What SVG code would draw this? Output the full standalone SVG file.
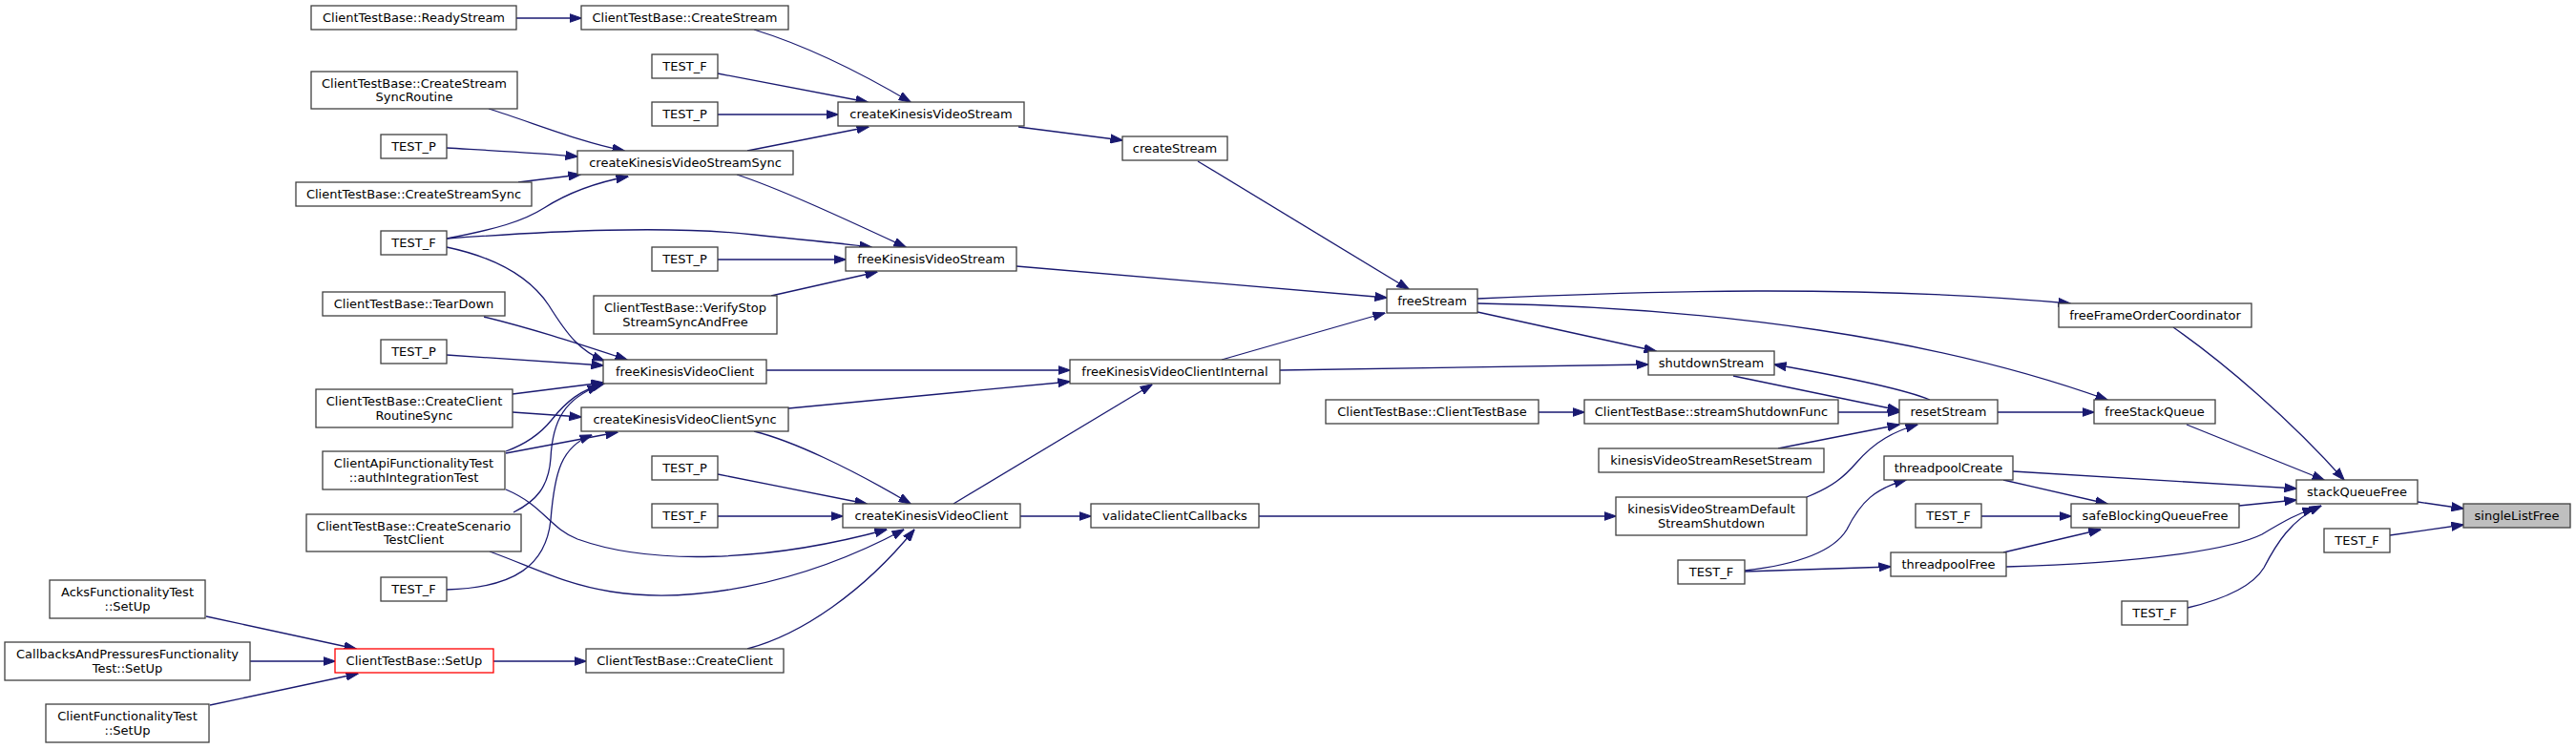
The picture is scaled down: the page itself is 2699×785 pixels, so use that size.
<svg xmlns="http://www.w3.org/2000/svg" width="2699" height="785" viewBox="0 0 2699 785">
<style>
.n rect{fill:#fff;stroke:#404040;stroke-width:1.3}
.n text{font-family:"DejaVu Sans",sans-serif;font-size:13px;fill:#000;text-anchor:middle}
.red rect{stroke:#ff0000}
.root rect{fill:#bfbfbf}
#edges path{fill:none;stroke:#191970;stroke-width:1.3;marker-end:url(#ah)}
</style>
<defs>
<marker id="ah" viewBox="0 0 13 10" refX="12.5" refY="5" markerWidth="13" markerHeight="10" orient="auto" markerUnits="userSpaceOnUse">
<path d="M0,0.5 L13,5 L0,9.5 z" fill="#191970" stroke="#191970" stroke-width="1"/>
</marker>
</defs>
<rect x="0" y="0" width="2699" height="785" fill="#fff"/>
<g id="edges">
<path d="M541,19 L609,19"/>
<path d="M790,31 C845,48 905,78 954,107"/>
<path d="M752,77 L909,107"/>
<path d="M752,120 L878,120"/>
<path d="M783,158 L910,133"/>
<path d="M1067,133 L1176,147"/>
<path d="M512,114 C560,129 605,148 654,158"/>
<path d="M468,155 C520,158 560,160 605,164"/>
<path d="M543,191 L608,183"/>
<path d="M468,250 C520,240 548,232 570,218 C592,204 620,192 658,185"/>
<path d="M468,250 C580,242 700,236 790,246 C840,251 880,255 913,259"/>
<path d="M468,259 C520,270 555,290 575,320 C595,352 608,368 633,378"/>
<path d="M772,183 C815,197 880,227 949,259"/>
<path d="M752,272 L886,272"/>
<path d="M808,310 L919,285"/>
<path d="M1065,279 L1453,312"/>
<path d="M1255,169 L1476,303"/>
<path d="M1548,313 C1720,305 1950,298 2169,318"/>
<path d="M1548,318 C1800,322 2030,355 2208,419"/>
<path d="M1548,327 L1735,368"/>
<path d="M1280,377 L1451,328"/>
<path d="M1341,388 L1727,382"/>
<path d="M803,388 L1121,388"/>
<path d="M826,428 L1121,400"/>
<path d="M999,528 L1207,403"/>
<path d="M507,332 C560,345 605,360 657,377"/>
<path d="M468,372 L632,383"/>
<path d="M537,413 L632,401"/>
<path d="M537,432 L609,437"/>
<path d="M530,473 C552,465 566,455 578,440 C594,420 608,409 633,402"/>
<path d="M530,475 L647,453"/>
<path d="M530,513 C570,530 575,553 605,565 C680,592 800,590 929,555"/>
<path d="M538,537 C562,525 575,510 577,480 C579,440 592,418 628,404"/>
<path d="M468,618 C540,616 572,592 577,545 C581,495 588,468 620,456"/>
<path d="M513,578 C560,595 590,612 640,620 C720,633 835,615 947,555"/>
<path d="M783,680 C840,665 905,620 958,555"/>
<path d="M752,497 L908,528"/>
<path d="M752,541 L883,541"/>
<path d="M790,452 C830,462 890,490 954,528"/>
<path d="M1069,541 L1143,541"/>
<path d="M1319,541 L1693,541"/>
<path d="M517,693 L614,693"/>
<path d="M216,646 L373,680"/>
<path d="M262,693 L351,693"/>
<path d="M220,739 L375,706"/>
<path d="M1612,432 L1660,432"/>
<path d="M1926,432 L1990,432"/>
<path d="M1863,470 L1990,445"/>
<path d="M1893,521 C1920,510 1932,500 1945,485 C1965,462 1985,452 2009,445"/>
<path d="M2022,419 C2000,410 1950,398 1859,382"/>
<path d="M1816,394 L1990,430"/>
<path d="M2093,432 L2194,432"/>
<path d="M2291,445 L2435,503"/>
<path d="M2277,343 C2330,380 2400,440 2456,503"/>
<path d="M2109,494 C2200,500 2300,505 2406,512"/>
<path d="M2099,503 L2208,528"/>
<path d="M2076,541 L2170,541"/>
<path d="M2099,579 L2201,555"/>
<path d="M2346,530 L2406,524"/>
<path d="M2102,594 C2250,590 2340,575 2370,560 C2395,545 2408,538 2425,533"/>
<path d="M2292,637 C2330,628 2360,615 2372,595 C2385,570 2400,545 2432,530"/>
<path d="M2533,526 L2581,533"/>
<path d="M2504,561 L2581,550"/>
<path d="M1828,598 C1880,592 1920,580 1935,555 C1950,525 1965,512 1997,503"/>
<path d="M1828,599 L1981,594"/>
</g>
<g id="n1" class="n"><rect x="326" y="6" width="215" height="25"/><text x="433.5" y="23">ClientTestBase::ReadyStream</text></g>
<g id="n2" class="n"><rect x="326" y="75" width="216" height="39"/><text x="434" y="92">ClientTestBase::CreateStream</text><text x="434" y="106">SyncRoutine</text></g>
<g id="n3" class="n"><rect x="399" y="141" width="69" height="25"/><text x="433.5" y="158">TEST_P</text></g>
<g id="n4" class="n"><rect x="310" y="191" width="247" height="25"/><text x="433.5" y="208">ClientTestBase::CreateStreamSync</text></g>
<g id="n5" class="n"><rect x="399" y="242" width="69" height="25"/><text x="433.5" y="259">TEST_F</text></g>
<g id="n6" class="n"><rect x="338" y="306" width="191" height="25"/><text x="433.5" y="323">ClientTestBase::TearDown</text></g>
<g id="n7" class="n"><rect x="399" y="356" width="69" height="25"/><text x="433.5" y="373">TEST_P</text></g>
<g id="n8" class="n"><rect x="331" y="408" width="206" height="40"/><text x="434" y="425">ClientTestBase::CreateClient</text><text x="434" y="440">RoutineSync</text></g>
<g id="n9" class="n"><rect x="338" y="473" width="191" height="40"/><text x="433.5" y="490">ClientApiFunctionalityTest</text><text x="433.5" y="505">::authIntegrationTest</text></g>
<g id="n10" class="n"><rect x="321" y="539" width="225" height="39"/><text x="433.5" y="556">ClientTestBase::CreateScenario</text><text x="433.5" y="570">TestClient</text></g>
<g id="n11" class="n"><rect x="399" y="605" width="69" height="25"/><text x="433.5" y="622">TEST_F</text></g>
<g id="n12" class="n red"><rect x="351" y="680" width="166" height="25"/><text x="434" y="697">ClientTestBase::SetUp</text></g>
<g id="n13" class="n"><rect x="52" y="608" width="163" height="40"/><text x="133.5" y="625">AcksFunctionalityTest</text><text x="133.5" y="640">::SetUp</text></g>
<g id="n14" class="n"><rect x="5" y="673" width="257" height="40"/><text x="133.5" y="690">CallbacksAndPressuresFunctionality</text><text x="133.5" y="705">Test::SetUp</text></g>
<g id="n15" class="n"><rect x="48" y="738" width="171" height="40"/><text x="133.5" y="755">ClientFunctionalityTest</text><text x="133.5" y="770">::SetUp</text></g>
<g id="n16" class="n"><rect x="609" y="6" width="217" height="25"/><text x="717.5" y="23">ClientTestBase::CreateStream</text></g>
<g id="n17" class="n"><rect x="683" y="57" width="69" height="25"/><text x="717.5" y="74">TEST_F</text></g>
<g id="n18" class="n"><rect x="683" y="107" width="69" height="25"/><text x="717.5" y="124">TEST_P</text></g>
<g id="n19" class="n"><rect x="605" y="158" width="226" height="25"/><text x="718" y="175">createKinesisVideoStreamSync</text></g>
<g id="n20" class="n"><rect x="683" y="259" width="69" height="25"/><text x="717.5" y="276">TEST_P</text></g>
<g id="n21" class="n"><rect x="622" y="310" width="192" height="40"/><text x="718" y="327">ClientTestBase::VerifyStop</text><text x="718" y="342">StreamSyncAndFree</text></g>
<g id="n22" class="n"><rect x="632" y="377" width="171" height="25"/><text x="717.5" y="394">freeKinesisVideoClient</text></g>
<g id="n23" class="n"><rect x="609" y="427" width="217" height="25"/><text x="717.5" y="444">createKinesisVideoClientSync</text></g>
<g id="n24" class="n"><rect x="683" y="478" width="69" height="25"/><text x="717.5" y="495">TEST_P</text></g>
<g id="n25" class="n"><rect x="683" y="528" width="69" height="25"/><text x="717.5" y="545">TEST_F</text></g>
<g id="n26" class="n"><rect x="614" y="680" width="207" height="25"/><text x="717.5" y="697">ClientTestBase::CreateClient</text></g>
<g id="n27" class="n"><rect x="878" y="107" width="195" height="25"/><text x="975.5" y="124">createKinesisVideoStream</text></g>
<g id="n28" class="n"><rect x="886" y="259" width="179" height="25"/><text x="975.5" y="276">freeKinesisVideoStream</text></g>
<g id="n29" class="n"><rect x="883" y="528" width="186" height="25"/><text x="976" y="545">createKinesisVideoClient</text></g>
<g id="n30" class="n"><rect x="1176" y="143" width="110" height="25"/><text x="1231" y="160">createStream</text></g>
<g id="n31" class="n"><rect x="1121" y="377" width="220" height="25"/><text x="1231" y="394">freeKinesisVideoClientInternal</text></g>
<g id="n32" class="n"><rect x="1143" y="528" width="176" height="25"/><text x="1231" y="545">validateClientCallbacks</text></g>
<g id="n33" class="n"><rect x="1453" y="303" width="95" height="25"/><text x="1500.5" y="320">freeStream</text></g>
<g id="n34" class="n"><rect x="1389" y="419" width="223" height="25"/><text x="1500.5" y="436">ClientTestBase::ClientTestBase</text></g>
<g id="n35" class="n"><rect x="1727" y="368" width="132" height="25"/><text x="1793" y="385">shutdownStream</text></g>
<g id="n36" class="n"><rect x="1660" y="419" width="266" height="25"/><text x="1793" y="436">ClientTestBase::streamShutdownFunc</text></g>
<g id="n37" class="n"><rect x="1675" y="470" width="236" height="25"/><text x="1793" y="487">kinesisVideoStreamResetStream</text></g>
<g id="n38" class="n"><rect x="1693" y="521" width="200" height="40"/><text x="1793" y="538">kinesisVideoStreamDefault</text><text x="1793" y="553">StreamShutdown</text></g>
<g id="n39" class="n"><rect x="1758" y="587" width="70" height="25"/><text x="1793" y="604">TEST_F</text></g>
<g id="n40" class="n"><rect x="1990" y="419" width="103" height="25"/><text x="2041.5" y="436">resetStream</text></g>
<g id="n41" class="n"><rect x="1974" y="478" width="135" height="25"/><text x="2041.5" y="495">threadpoolCreate</text></g>
<g id="n42" class="n"><rect x="2007" y="528" width="69" height="25"/><text x="2041.5" y="545">TEST_F</text></g>
<g id="n43" class="n"><rect x="1981" y="579" width="121" height="25"/><text x="2041.5" y="596">threadpoolFree</text></g>
<g id="n44" class="n"><rect x="2157" y="318" width="202" height="25"/><text x="2258" y="335">freeFrameOrderCoordinator</text></g>
<g id="n45" class="n"><rect x="2194" y="419" width="127" height="25"/><text x="2257.5" y="436">freeStackQueue</text></g>
<g id="n46" class="n"><rect x="2170" y="528" width="176" height="25"/><text x="2258" y="545">safeBlockingQueueFree</text></g>
<g id="n47" class="n"><rect x="2223" y="630" width="69" height="25"/><text x="2257.5" y="647">TEST_F</text></g>
<g id="n48" class="n"><rect x="2406" y="503" width="127" height="25"/><text x="2469.5" y="520">stackQueueFree</text></g>
<g id="n49" class="n"><rect x="2435" y="554" width="69" height="25"/><text x="2469.5" y="571">TEST_F</text></g>
<g id="n50" class="n root"><rect x="2581" y="528" width="112" height="25"/><text x="2637" y="545">singleListFree</text></g>
</svg>
